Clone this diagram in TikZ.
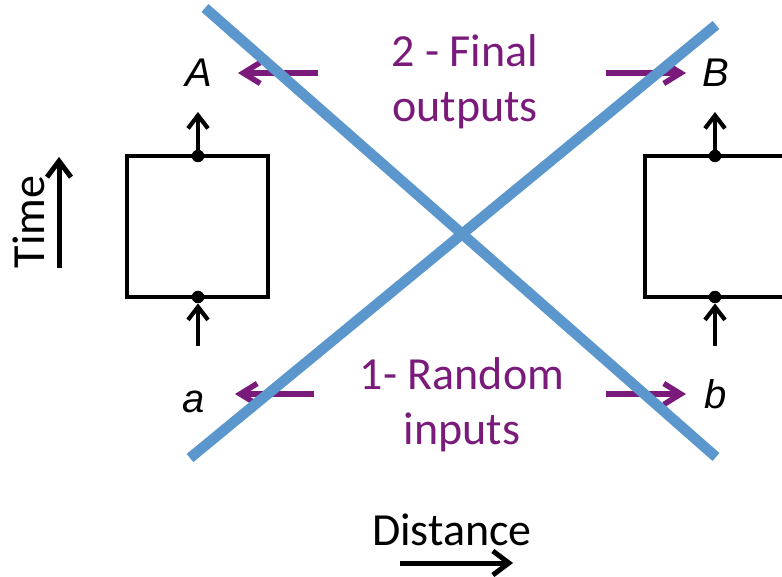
\documentclass[tikz,border=0pt]{standalone}
\usepackage{fontspec}
\setmainfont{Carlito}
\newfontfamily\arialf{Liberation Sans}
\usetikzlibrary{arrows.meta}
\definecolor{xblue}{RGB}{91,150,205}
\definecolor{xpurple}{RGB}{122,26,122}
\tikzset{
  boxline/.style={line width=4pt, line join=miter},
  sigarrow/.style={line width=4.2pt, -{Straight Barb[length=13pt, width=20pt, line width=4.2pt]}},
  purplearrow/.style={xpurple, line width=5.5pt, -{Straight Barb[length=17pt, width=21pt, line width=5.5pt]}},
  axisarrow/.style={line width=5pt, -{Straight Barb[length=16pt, width=24pt, line width=5pt]}},
  crossline/.style={xblue, line width=10.5pt},
  dotnode/.style={circle, fill=black, inner sep=0pt, minimum size=12.5pt},
  letterlab/.style={font=\arialf\itshape\fontsize{40}{44}\selectfont, inner sep=0pt},
  purpletext/.style={xpurple, align=center, font=\fontsize{46}{55}\selectfont, inner sep=0pt},
  blacktext/.style={font=\fontsize{46}{50}\selectfont, inner sep=0pt}
}
\begin{document}
\begin{tikzpicture}[x=1pt,y=-1pt]
\useasboundingbox (0,0) rectangle (782,577);
% left box
\coordinate (LB1) at (127,156);
\coordinate (LB2) at (268,297);
\draw[boxline] (LB1) rectangle (LB2);
\node[dotnode] (ldtop) at (198,156) {};
\node[dotnode] (ldbot) at (198,297) {};
\coordinate (ltopend) at (198,112);
\coordinate (lbotstart) at (198,346);
\draw[sigarrow] (ldtop.center) -- (ltopend);
\draw[sigarrow] (lbotstart) -- (ldbot.south);
% right box
\coordinate (RB1) at (790,156);
\coordinate (RB2) at (645,156);
\coordinate (RB3) at (645,297);
\coordinate (RB4) at (790,297);
\draw[boxline] (RB1) -- (RB2) -- (RB3) -- (RB4);
\node[dotnode] (rdtop) at (715,156) {};
\node[dotnode] (rdbot) at (715,297) {};
\coordinate (rtopend) at (715,112);
\coordinate (rbotstart) at (715,346);
\draw[sigarrow] (rdtop.center) -- (rtopend);
\draw[sigarrow] (rbotstart) -- (rdbot.south);
% letters
\node[letterlab, anchor=base] (A) at (199,87) {A};
\node[letterlab, anchor=base] (B) at (716,87) {B};
\node[letterlab, anchor=base] (a) at (194,412) {a};
\node[letterlab, anchor=base] (b) at (716,408) {b};
% purple arrows
\coordinate (pA0) at (318,73);
\coordinate (pA1) at (238,73);
\coordinate (pB0) at (606,73);
\coordinate (pB1) at (686,73);
\coordinate (pa0) at (314,394);
\coordinate (pa1) at (235,394);
\coordinate (pb0) at (606,394);
\coordinate (pb1) at (686,394);
\draw[purplearrow] (pA0) -- (pA1);
\draw[purplearrow] (pB0) -- (pB1);
\draw[purplearrow] (pa0) -- (pa1);
\draw[purplearrow] (pb0) -- (pb1);
% blue cross
\coordinate (c1a) at (205,8);
\coordinate (c1b) at (716,457);
\coordinate (c2a) at (190,458);
\coordinate (c2b) at (716,25);
\draw[crossline] (c1a) -- (c1b);
\draw[crossline] (c2a) -- (c2b);
% purple texts
\node[purpletext, anchor=base] (outtxt) at (465,122) {2 - Final\\outputs};
\node[purpletext, anchor=base] (intxt) at (462,444) {1- Random\\inputs};
% axes
\node[blacktext, rotate=90, anchor=base] (time) at (44,222) {Time};
\coordinate (t0) at (59,268);
\coordinate (t1) at (59,157);
\draw[axisarrow] (t0) -- (t1);
\node[blacktext, anchor=base] (dist) at (452,545) {Distance};
\coordinate (d0) at (400,563);
\coordinate (d1) at (513,563);
\draw[axisarrow] (d0) -- (d1);
\end{tikzpicture}
\end{document}
